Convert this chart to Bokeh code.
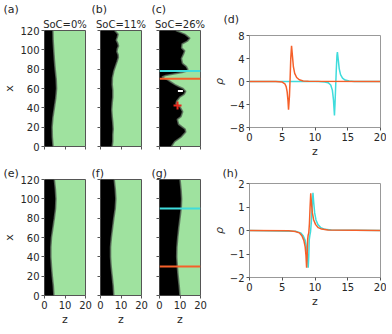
from bokeh.plotting import figure
from bokeh.layouts import column, row
from bokeh.models import Span, Title
from bokeh.embed import file_html
from bokeh.resources import INLINE

# ---------------- data ----------------
# interface position z (black region = z < boundary) along x, for each image panel
a_x = [0, 10, 20, 30, 40, 50, 60, 70, 80, 90, 100, 110, 120]
a_z = [4.2, 3.8, 3.7, 4.1, 4.8, 5.5, 5.9, 5.7, 5.2, 4.8, 4.5, 4.2, 4.1]

b_x = [0, 5, 12, 18, 25, 31, 38, 45, 51, 58, 64, 71, 78, 83, 88, 92, 95, 98, 101, 104, 107, 110, 113, 116, 118, 120]
b_z = [5.7, 6.0, 6.0, 6.2, 6.0, 5.7, 5.5, 5.7, 6.0, 6.0, 5.7, 5.8, 6.5, 7.3, 8.1, 8.7, 8.6, 8.0, 8.2, 8.8, 8.4, 7.7, 8.2, 8.6, 7.8, 6.9]

c_x = [0, 5, 10, 15, 18, 23, 28, 31, 36, 41, 44, 47, 51, 54, 57, 60, 62, 64, 67, 69, 70.5, 72, 73.5, 75, 76.5, 78, 80, 83, 86, 91, 96, 99, 102, 106, 109, 112, 116, 120]
c_z = [5.8, 7.4, 10.7, 12.8, 12.5, 9.3, 8.7, 10.5, 11.3, 10.0, 8.0, 8.4, 9.9, 12.0, 12.8, 11.5, 9.4, 7.6, 5.4, 4.0, 2.5, 1.2, 3.0, 7.0, 11.0, 13.5, 13.8, 13.0, 11.2, 10.7, 11.8, 12.3, 10.8, 11.0, 13.6, 14.8, 12.5, 8.0]

e_x = [0, 10, 20, 30, 40, 50, 60, 70, 80, 90, 100, 110, 120]
e_z = [4.6, 4.3, 3.8, 3.4, 3.1, 3.1, 3.4, 4.1, 4.8, 5.4, 5.6, 5.3, 4.8]

f_x = [0, 10, 20, 30, 40, 50, 60, 70, 80, 90, 100, 110, 120]
f_z = [6.5, 6.2, 5.7, 5.2, 4.9, 4.9, 5.3, 5.9, 6.5, 7.2, 7.5, 7.2, 6.7]

g_x = [0, 10, 20, 30, 40, 50, 60, 70, 80, 90, 100, 110, 120]
g_z = [10.0, 9.6, 9.1, 8.7, 8.4, 8.5, 8.9, 9.4, 10.0, 10.6, 10.8, 10.5, 10.0]

# cut lines (x positions) where the rho profiles are taken
c_cut_cyan = 78
c_cut_orange = 70
g_cut_cyan = 90
g_cut_orange = 30

# charge markers in panel (c)
minus_z, minus_x = [10.2], [57.5]
plus_z, plus_x = [8.8], [42.5]

titles = ["SoC=0%", "SoC=11%", "SoC=26%"]
letters = ["(a)", "(b)", "(c)", "(d)", "(e)", "(f)", "(g)", "(h)"]

# charge density profiles
d_orange_z = [0, 4.0, 5.0, 5.4, 5.6, 5.75, 5.88, 5.96, 6.1, 6.2, 6.3, 6.42, 6.55, 6.7, 6.9, 7.2, 7.6, 8.2, 9.0, 20]
d_orange_r = [0, -0.02, -0.1, -0.4, -0.9, -1.8, -3.4, -4.9, -2.5, 0.5, 4.0, 6.2, 4.5, 2.6, 1.4, 0.7, 0.3, 0.1, 0.03, 0]
d_cyan_z = [0, 10.5, 11.5, 12.0, 12.4, 12.65, 12.82, 12.97, 13.05, 13.15, 13.25, 13.35, 13.42, 13.55, 13.7, 13.9, 14.2, 14.6, 15.2, 16.0, 20]
d_cyan_r = [0, -0.01, -0.08, -0.2, -0.6, -1.5, -3.2, -5.9, -4.0, -1.0, 2.0, 4.5, 5.1, 3.8, 2.2, 1.2, 0.6, 0.25, 0.08, 0.02, 0]

h_orange_z = [0, 6.0, 7.0, 7.6, 8.0, 8.3, 8.5, 8.62, 8.72, 8.8, 8.88, 8.95, 9.05, 9.15, 9.25, 9.35, 9.45, 9.6, 9.8, 10.1, 10.5, 11.0, 12.0, 20]
h_orange_r = [0, -0.01, -0.04, -0.1, -0.22, -0.42, -0.7, -1.05, -1.58, -1.1, -0.4, -0.2, -0.1, 0.3, 1.0, 1.58, 1.2, 0.75, 0.45, 0.25, 0.12, 0.06, 0.02, 0]
h_cyan_z = [0, 7.0, 7.8, 8.2, 8.5, 8.72, 8.86, 8.96, 9.05, 9.12, 9.22, 9.32, 9.45, 9.58, 9.69, 9.8, 9.95, 10.15, 10.45, 10.9, 11.5, 12.5, 20]
h_cyan_r = [0, -0.03, -0.1, -0.22, -0.42, -0.75, -1.1, -1.58, -1.1, -0.4, -0.2, -0.05, 0.4, 1.1, 1.6, 1.2, 0.75, 0.45, 0.25, 0.12, 0.05, 0.02, 0]

img_z_ticks = [0, 10, 20]
img_x_ticks = [0, 20, 40, 60, 80, 100, 120]
line_z_ticks = [0, 5, 10, 15, 20]
d_ticks = [-8, -4, 0, 4, 8]
d_tick_labels = ["\u22128", "\u22124", "0", "4", "8"]
h_ticks = [-2, -1, 0, 1, 2]
h_tick_labels = ["\u22122", "\u22121", "0", "1", "2"]

# ---------------- style ----------------
FONT = "DejaVu Sans"
GREEN = "#9fe29f"
CYAN = "#3fdcdc"
ORANGE = "#f5602a"
TXT = "#262626"
TICK = "#555555"


def style_axes(p, show_xlab, show_ylab, xlabel, ylabel, outline):
    for ax in (p.xaxis[0], p.yaxis[0]):
        ax.axis_line_color = None
        ax.major_tick_out = 3
        ax.major_tick_in = 0
        ax.major_tick_line_color = TICK
        ax.minor_tick_line_color = None
        ax.major_label_text_font = FONT
        ax.major_label_text_font_size = "10px"
        ax.major_label_text_color = TXT
        ax.major_label_standoff = 2
        ax.axis_label_text_font = FONT
        ax.axis_label_text_font_size = "11px"
        ax.axis_label_text_color = TXT
        ax.axis_label_text_font_style = "normal"
        ax.axis_label_standoff = 1
    if show_xlab:
        p.xaxis.axis_label = xlabel
    else:
        p.xaxis.major_label_overrides = {t: "" for t in img_z_ticks}
    if show_ylab:
        p.yaxis.axis_label = ylabel
    else:
        p.yaxis.major_label_overrides = {t: "" for t in img_x_ticks}
    p.grid.visible = False
    p.outline_line_color = outline
    p.outline_line_width = 1


def set_titles(p, letter, loff, lstand, title=None):
    # outermost title: panel letter
    p.title.text = letter
    p.title.align = "left"
    p.title.offset = loff
    p.title.standoff = lstand
    p.title.text_font = FONT
    p.title.text_font_size = "11px"
    p.title.text_font_style = "normal"
    p.title.text_color = TXT
    if title is not None:
        # inner title (closer to the frame)
        p.add_layout(Title(text=title, align="center", standoff=2,
                           text_font=FONT, text_font_size="10px", text_font_style="normal",
                           text_color=TXT), "above")


def img_panel(xv, zv, bl, br, bt, bb, fh, show_xlab, show_ylab, letter, loff, lstand, title=None):
    p = figure(frame_width=41, frame_height=fh, x_range=(0, 20), y_range=(0, 120),
               output_backend="svg", toolbar_location=None,
               min_border_left=bl, min_border_right=br, min_border_top=bt, min_border_bottom=bb)
    p.background_fill_color = GREEN
    p.border_fill_color = "white"
    pz = [0] + list(zv) + [0]
    px = [xv[0]] + list(xv) + [xv[-1]]
    p.patch(pz, px, fill_color="black", line_color=None)
    p.line(zv, xv, line_color="#5a6a5a", line_width=1.6, line_alpha=0.8)
    p.xaxis.ticker = img_z_ticks
    p.yaxis.ticker = img_x_ticks
    style_axes(p, show_xlab, show_ylab, "z", "x", "#555555")
    set_titles(p, letter, loff, lstand, title)
    return p


def line_panel(series, ticks, labels, yr, bl, br, bt, bb, fh, letter, loff, lstand):
    p = figure(frame_width=131, frame_height=fh, x_range=(0, 20), y_range=yr,
               output_backend="svg", toolbar_location=None,
               min_border_left=bl, min_border_right=br, min_border_top=bt, min_border_bottom=bb)
    p.background_fill_color = "white"
    for zs, rs, col in series:
        p.line(zs, rs, line_color=col, line_width=1.5)
    p.xaxis.ticker = line_z_ticks
    p.yaxis.ticker = ticks
    p.yaxis.major_label_overrides = {t: l for t, l in zip(ticks, labels)}
    style_axes(p, True, True, "z", "\u03c1", "#999999")
    p.yaxis.axis_label_text_font_style = "italic"
    set_titles(p, letter, loff, lstand)
    return p


FH = 116
# top row
pa = img_panel(a_x, a_z, 41, 7, 24, 18, FH, False, True, letters[0], -41, 0, titles[0])
pb = img_panel(b_x, b_z, 8, 9, 24, 18, FH, False, False, letters[1], -9, 0, titles[1])
pc = img_panel(c_x, c_z, 9, 9, 24, 18, FH, False, False, letters[2], -8, 0, titles[2])
pc.add_layout(Span(location=c_cut_cyan, dimension="width", line_color=CYAN, line_width=2))
pc.add_layout(Span(location=c_cut_orange, dimension="width", line_color=ORANGE, line_width=2))
pc.scatter(minus_z, minus_x, marker="dash", size=5, line_color="white", line_width=2)
pc.scatter(plus_z, plus_x, marker="cross", size=8, line_color="#e8281c", line_width=2)
pd = line_panel([(d_cyan_z, d_cyan_r, CYAN), (d_orange_z, d_orange_r, ORANGE)],
                d_ticks, d_tick_labels, (-8, 8), 33, 6, 33, 33, 92, letters[3], -26, 20)

# bottom row
pe = img_panel(e_x, e_z, 41, 7, 13, 31, FH, True, True, letters[4], -41, 0)
pf = img_panel(f_x, f_z, 8, 9, 13, 31, FH, True, False, letters[5], -9, 0)
pg = img_panel(g_x, g_z, 9, 9, 13, 31, FH, True, False, letters[6], -8, 0)
pg.add_layout(Span(location=g_cut_cyan, dimension="width", line_color=CYAN, line_width=2))
pg.add_layout(Span(location=g_cut_orange, dimension="width", line_color=ORANGE, line_width=2))
ph = line_panel([(h_cyan_z, h_cyan_r, CYAN), (h_orange_z, h_orange_r, ORANGE)],
                h_ticks, h_tick_labels, (-2, 2), 33, 6, 21, 45, 94, letters[7], -27, 8)

left_block = column(row(pa, pb, pc, spacing=0), row(pe, pf, pg, spacing=0), spacing=0)
right_block = column(pd, ph, spacing=0)
layout = row(left_block, right_block, spacing=0)

open("out.html", "w").write(file_html(layout, INLINE))
